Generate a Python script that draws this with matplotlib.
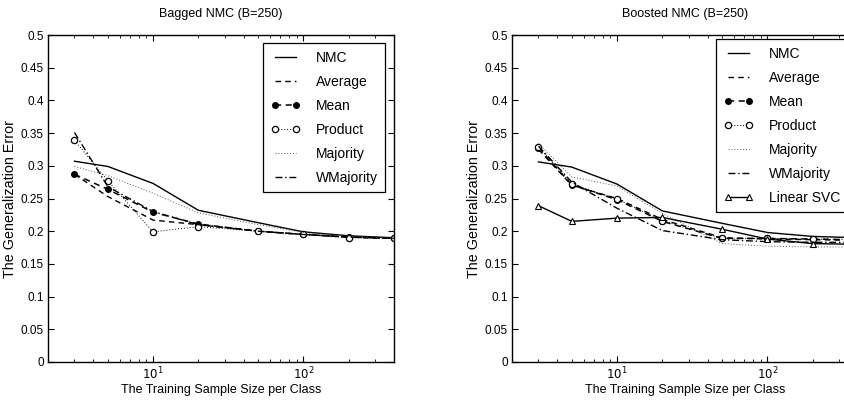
import numpy as np
import matplotlib
matplotlib.use('Agg')
import matplotlib.pyplot as plt
from matplotlib.ticker import FixedLocator, FixedFormatter, LogLocator, NullFormatter

plt.rcParams['font.family'] = ['Liberation Sans', 'DejaVu Sans']

# Tamanhos de amostra (eixo x)
sizes = [3, 5, 10, 20, 50, 100, 200, 400]

# Bagged NMC (B=250)
bag_nmc = [0.307, 0.299, 0.273, 0.232, 0.213, 0.199, 0.193, 0.190]
bag_average = [0.287, 0.253, 0.217, 0.210, 0.200, 0.195, 0.191, 0.189]
bag_mean = [0.287, 0.264, 0.229, 0.211, 0.200, 0.195, 0.191, 0.189]
bag_product = [0.339, 0.277, 0.199, 0.207, 0.200, 0.195, 0.190, 0.189]
bag_majority = [0.299, 0.285, 0.258, 0.228, 0.210, 0.198, 0.192, 0.190]
bag_wmajority = [0.351, 0.268, 0.230, 0.210, 0.200, 0.195, 0.191, 0.189]

# Boosted NMC (B=250)
bst_nmc = [0.306, 0.298, 0.272, 0.231, 0.212, 0.198, 0.192, 0.190]
bst_average = [0.325, 0.270, 0.250, 0.218, 0.190, 0.188, 0.187, 0.186]
bst_mean = [0.327, 0.271, 0.248, 0.215, 0.189, 0.189, 0.188, 0.187]
bst_product = [0.329, 0.272, 0.249, 0.216, 0.189, 0.189, 0.188, 0.187]
bst_majority = [0.334, 0.283, 0.269, 0.227, 0.181, 0.177, 0.176, 0.176]
bst_wmajority = [0.330, 0.275, 0.235, 0.201, 0.187, 0.184, 0.183, 0.183]
bst_svc = [0.239, 0.215, 0.220, 0.221, 0.203, 0.188, 0.181, 0.180]

y_ticks = [0, 0.05, 0.1, 0.15, 0.2, 0.25, 0.3, 0.35, 0.4, 0.45, 0.5]
y_tick_labels = ['0', '0.05', '0.1', '0.15', '0.2', '0.25', '0.3', '0.35', '0.4', '0.45', '0.5']


def desenhar(ax, x, series, titulo, svc=None):
    nmc, average, mean, product, majority, wmajority = series
    lw = 1.0
    ax.plot(x, nmc, color='black', lw=lw, ls='-', label='NMC')
    ax.plot(x, average, color='black', lw=lw, ls=(0, (4, 3)), label='Average')
    ax.plot(x, mean, color='black', lw=1.1, ls=(0, (4, 3)), marker='o', ms=4,
            mfc='black', mec='black', label='Mean')
    ax.plot(x, product, color='black', lw=0.7, ls=(0, (1, 2)), marker='o', ms=4.5,
            mfc='white', mec='black', mew=0.9, label='Product')
    ax.plot(x, majority, color='#555555', lw=0.7, ls=(0, (1, 2)), label='Majority')
    ax.plot(x, wmajority, color='black', lw=lw, ls=(0, (5, 2, 1, 2)), label='WMajority')
    if svc is not None:
        ax.plot(x, svc, color='black', lw=lw, ls='-', marker='^', ms=5,
                mfc='white', mec='black', mew=0.8, label='Linear SVC')

    ax.set_xscale('log')
    ax.set_xlim(2, x[-1])
    ax.set_ylim(0, 0.5)
    ax.yaxis.set_major_locator(FixedLocator(y_ticks))
    ax.yaxis.set_major_formatter(FixedFormatter(y_tick_labels))
    ax.xaxis.set_major_locator(FixedLocator([10, 100]))
    ax.xaxis.set_major_formatter(FixedFormatter([r'$10^1$', r'$10^2$']))
    ax.xaxis.set_minor_locator(LogLocator(base=10, subs=np.arange(2, 10)))
    ax.xaxis.set_minor_formatter(NullFormatter())
    ax.tick_params(which='both', direction='in', top=True, right=True, labelsize=8.5, pad=3)
    ax.tick_params(which='major', length=4, width=0.8)
    ax.tick_params(which='minor', length=2.5, width=0.6)
    for s in ax.spines.values():
        s.set_linewidth(1.0)
    ax.set_title(titulo, fontsize=9, pad=13)
    ax.set_xlabel('The Training Sample Size per Class', fontsize=9, labelpad=1)
    ax.set_ylabel('The Generalization Error', fontsize=10.3, labelpad=3)


fig = plt.figure(figsize=(8.44, 4.03), dpi=100)
ax1 = fig.add_axes([48 / 844, 41 / 403, 346 / 844, 327 / 403])
ax2 = fig.add_axes([512 / 844, 41 / 403, 346 / 844, 327 / 403])

desenhar(ax1, sizes,
         [bag_nmc, bag_average, bag_mean, bag_product, bag_majority, bag_wmajority],
         'Bagged NMC (B=250)')
desenhar(ax2, sizes,
         [bst_nmc, bst_average, bst_mean, bst_product, bst_majority, bst_wmajority],
         'Boosted NMC (B=250)', svc=bst_svc)

leg_kw = dict(fontsize=10, handlelength=2.15, handletextpad=1.1, labelspacing=0.72,
              borderpad=0.55, numpoints=2, frameon=True, fancybox=False,
              edgecolor='black', framealpha=1, borderaxespad=0, loc='upper left')
l1 = ax1.legend(bbox_to_anchor=((263 - 48) / 346, (362 - 43) / 327), **leg_kw)
l1.get_frame().set_linewidth(0.9)
l2 = ax2.legend(bbox_to_anchor=((716 - 512) / 346, (362 - 39) / 327), **leg_kw)
l2.get_frame().set_linewidth(0.9)

fig.savefig('out.png', dpi=100)
